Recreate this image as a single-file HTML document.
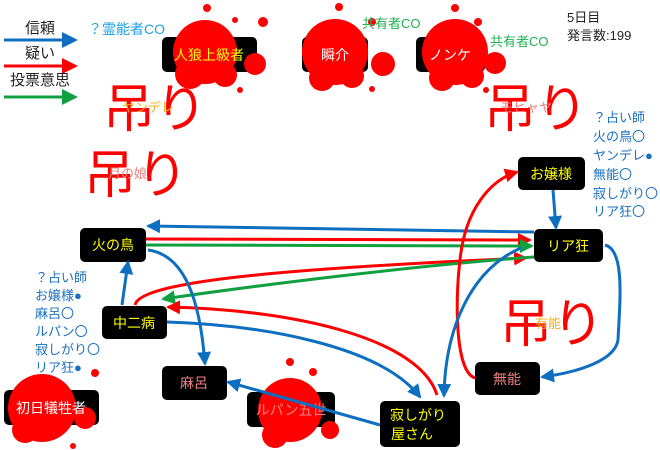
<!DOCTYPE html>
<html><head><meta charset="utf-8"><style>
body{margin:0;background:#fff;width:660px;height:450px;overflow:hidden}
svg{display:block}
text{font-family:"Liberation Sans","Noto Sans CJK JP",sans-serif}
</style></head><body>
<svg width="660" height="450" viewBox="0 0 660 450" xmlns="http://www.w3.org/2000/svg">
<defs>
<marker id="ab" markerWidth="14" markerHeight="14" refX="12" refY="7" orient="auto" markerUnits="userSpaceOnUse" viewBox="0 0 14 14"><path d="M0,0 L14,7 L0,14z" fill="#0e6fc0"/></marker>
<marker id="ar" markerWidth="14" markerHeight="14" refX="12" refY="7" orient="auto" viewBox="0 0 14 14" markerUnits="userSpaceOnUse"><path d="M0,0 L14,7 L0,14z" fill="#f00"/></marker>
<marker id="ag" markerWidth="14" markerHeight="14" refX="12" refY="7" orient="auto" viewBox="0 0 14 14" markerUnits="userSpaceOnUse"><path d="M0,0 L14,7 L0,14z" fill="#10a040"/></marker>
</defs>
<!-- legend -->
<text x="40" y="33" font-size="15" text-anchor="middle" fill="#222">信頼</text>
<line x1="4" y1="40" x2="64" y2="40" stroke="#0e6fc0" stroke-width="3"/><path d="M62,32 L78,40 L62,48z" fill="#0e6fc0"/>
<text x="40" y="58" font-size="15" text-anchor="middle" fill="#222">疑い</text>
<line x1="4" y1="66" x2="64" y2="66" stroke="#f00" stroke-width="3"/><path d="M62,58 L78,66 L62,74z" fill="#f00"/>
<text x="40" y="85" font-size="15" text-anchor="middle" fill="#222">投票意思</text>
<line x1="4" y1="97" x2="64" y2="97" stroke="#10a040" stroke-width="3"/><path d="M62,89 L78,97 L62,105z" fill="#10a040"/>

<text x="88" y="34" font-size="14" fill="#1ea0e0">？霊能者CO</text>
<text x="567" y="22" font-size="13" fill="#222">5日目</text>
<text x="567" y="40" font-size="13" fill="#222">発言数:199</text>

<!-- lists -->
<g font-size="13" fill="#1a70c0">
<text x="593" y="122">？占い師</text><text x="593" y="141">火の鳥〇</text><text x="593" y="160">ヤンデレ●</text><text x="593" y="179">無能〇</text><text x="593" y="198">寂しがり〇</text><text x="593" y="216">リア狂〇</text>
<text x="35" y="282">？占い師</text><text x="35" y="300">お嬢様●</text><text x="35" y="318">麻呂〇</text><text x="35" y="336">ルパン〇</text><text x="35" y="354">寂しがり〇</text><text x="35" y="372">リア狂●</text>
</g>

<!-- nodes -->
<g fill="#000">
<rect x="162" y="37" width="95" height="35" rx="5"/>
<rect x="302" y="37" width="66" height="35" rx="5"/>
<rect x="416" y="37" width="69" height="35" rx="5"/>
<rect x="518" y="157" width="67" height="33" rx="5"/>
<rect x="80" y="228" width="66" height="34" rx="5"/>
<rect x="534" y="229" width="69" height="33" rx="5"/>
<rect x="102" y="306" width="65" height="33" rx="5"/>
<rect x="162" y="366" width="65" height="34" rx="5"/>
<rect x="475" y="362" width="65" height="33" rx="5"/>
<rect x="4" y="390" width="95" height="35" rx="5"/>
<rect x="247" y="392" width="88" height="35" rx="5"/>
<rect x="380" y="401" width="80" height="46" rx="5"/>
</g>

<!-- blood -->
<g fill="#f00">
<circle cx="205" cy="52" r="32"/><circle cx="190" cy="74" r="15"/><circle cx="225" cy="75" r="12"/><circle cx="255" cy="64" r="11"/><circle cx="207" cy="8" r="4"/><circle cx="235" cy="20" r="3"/><circle cx="263" cy="22" r="5"/><circle cx="240" cy="90" r="3"/>
<circle cx="335" cy="52" r="33"/><circle cx="322" cy="78" r="13"/><circle cx="352" cy="76" r="12"/><circle cx="383" cy="64" r="12"/><circle cx="339" cy="7" r="4"/><circle cx="372" cy="22" r="4"/><circle cx="372" cy="89" r="3"/>
<circle cx="455" cy="52" r="33"/><circle cx="442" cy="78" r="13"/><circle cx="472" cy="76" r="12"/><circle cx="495" cy="63" r="11"/><circle cx="455" cy="8" r="4"/><circle cx="478" cy="22" r="4"/><circle cx="486" cy="90" r="3"/>
<circle cx="42" cy="408" r="34"/><circle cx="25" cy="430" r="13"/><circle cx="85" cy="418" r="11"/><circle cx="95" cy="373" r="4"/><circle cx="73" cy="446" r="3"/>
<circle cx="290" cy="410" r="32"/><circle cx="275" cy="435" r="13"/><circle cx="330" cy="430" r="9"/><circle cx="290" cy="362" r="4"/><circle cx="313" cy="372" r="4"/>
</g>

<text x="362" y="28" font-size="13" fill="#20b050">共有者CO</text>
<text x="490" y="46" font-size="13" fill="#20b050">共有者CO</text>

<!-- 吊り -->
<text x="103" y="127" font-size="52" fill="#f00">吊り</text>
<text x="122" y="112" font-size="13" fill="#f0b020">ヤンデレ</text>
<text x="84" y="193" font-size="52" fill="#f00">吊り</text>
<text x="108" y="178" font-size="13" fill="#f08080">月の娘</text>
<text x="484" y="127" font-size="52" fill="#f00">吊り</text>
<text x="500" y="112" font-size="13" fill="#f08080">モヒャヤ</text>
<text x="500" y="342" font-size="52" fill="#f00">吊り</text>
<text x="535" y="328" font-size="13" fill="#f0b020">有能</text>

<!-- node labels -->
<g font-size="14" text-anchor="middle">
<text x="209" y="60" fill="#ffff00">人狼上級者</text>
<text x="335" y="60" fill="#fff">瞬介</text>
<text x="450" y="60" fill="#fff">ノンケ</text>
<text x="551" y="179" fill="#ffff00">お嬢様</text>
<text x="113" y="250" fill="#ffff00">火の鳥</text>
<text x="568" y="251" fill="#ffff00">リア狂</text>
<text x="134" y="328" fill="#ffff00">中二病</text>
<text x="194" y="388" fill="#f08080">麻呂</text>
<text x="507" y="384" fill="#f08080">無能</text>
<text x="51" y="413" fill="#fff">初日犠牲者</text>
<text x="291" y="415" fill="#ff8080">ルパン五世</text>
<text x="418" y="420" fill="#ffff00">寂しがり</text>
<text x="412" y="439" fill="#ffff00">屋さん</text>
</g>

<!-- connectors -->
<g fill="none" stroke-width="3">
<path d="M534,232 L148,226" stroke="#0e6fc0" marker-end="url(#ab)"/>
<path d="M146,239 L530,240" stroke="#f00" marker-end="url(#ar)"/>
<path d="M146,245 L532,246" stroke="#10a040" marker-end="url(#ag)"/>
<path d="M135,305 C140,280 300,268 526,258" stroke="#f00" marker-end="url(#ar)"/>
<path d="M534,257 C420,265 260,285 163,299" stroke="#10a040" marker-end="url(#ag)"/>
<path d="M437,395 C420,340 300,310 168,307" stroke="#f00" marker-end="url(#ar)"/>
<path d="M167,322 C260,325 380,345 420,397" stroke="#0e6fc0" marker-end="url(#ab)"/>
<path d="M122,305 L128,262" stroke="#0e6fc0" marker-end="url(#ab)"/>
<path d="M148,250 C185,255 200,300 205,364" stroke="#0e6fc0" marker-end="url(#ab)"/>
<path d="M380,425 L228,382" stroke="#0e6fc0" marker-end="url(#ab)"/>
<path d="M475,378 C455,372 455,300 460,260 C465,210 490,180 517,172" stroke="#f00" marker-end="url(#ar)"/>
<path d="M553,190 L556,228" stroke="#0e6fc0" marker-end="url(#ab)"/>
<path d="M521,248 C470,270 445,330 444,396" stroke="#0e6fc0" marker-end="url(#ab)"/>
<path d="M605,245 C625,250 620,300 618,340 C615,360 580,372 542,377" stroke="#0e6fc0" marker-end="url(#ab)"/>
</g>
</svg>
</body></html>
